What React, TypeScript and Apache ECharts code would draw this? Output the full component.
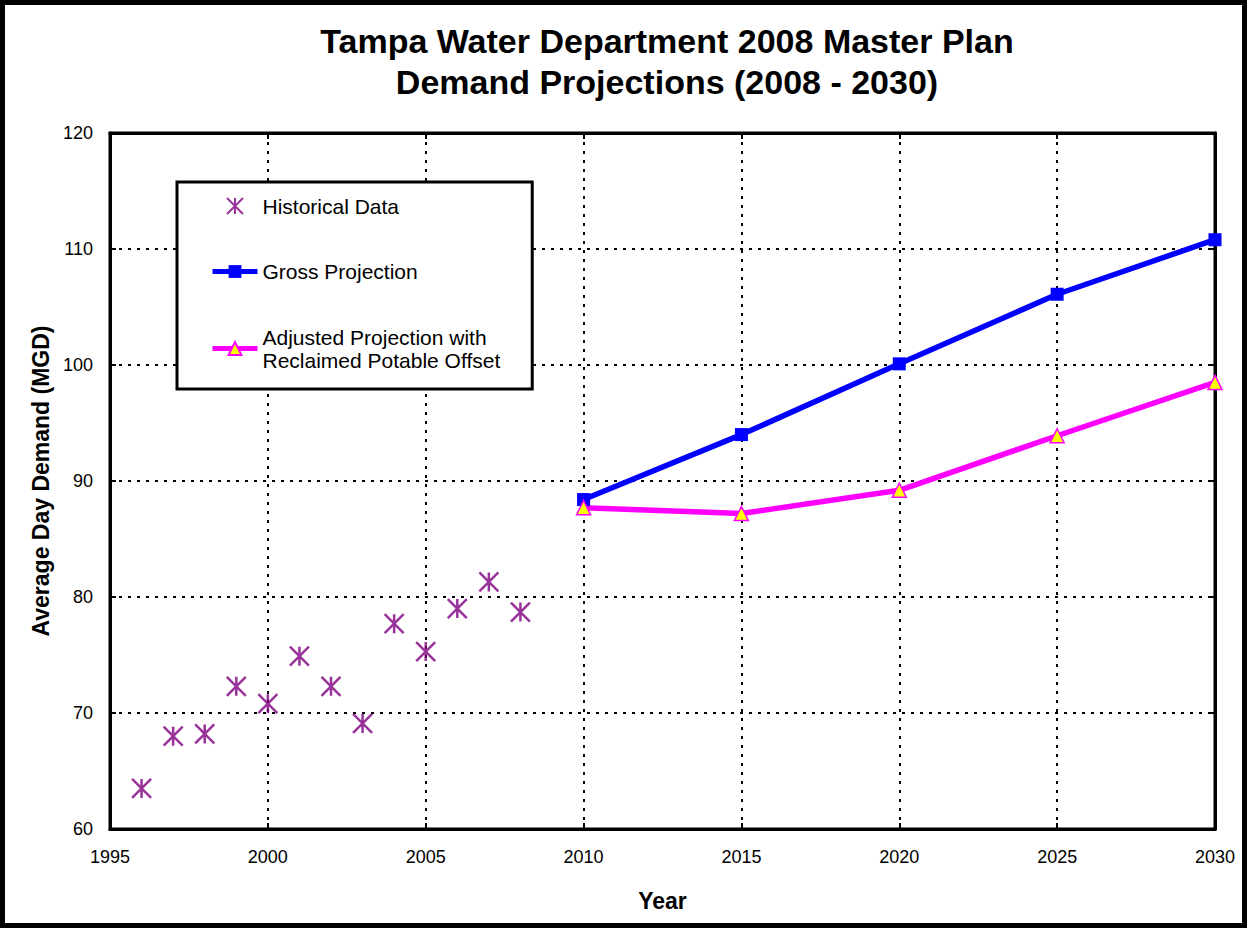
import React, { useEffect, useRef } from "react";
import * as echarts from "echarts";

const histYears = [1996, 1997, 1998, 1999, 2000, 2001, 2002, 2003, 2004, 2005, 2006, 2007, 2008];
const histValues = [63.5, 68.0, 68.2, 72.3, 70.8, 74.9, 72.3, 69.1, 77.7, 75.3, 79.0, 81.3, 78.7];
const projYears = [2010, 2015, 2020, 2025, 2030];
const grossValues = [88.4, 94.0, 100.1, 106.1, 110.8];
const adjustedValues = [87.7, 87.2, 89.2, 93.9, 98.5];

const FONT = "'Liberation Sans', Arial, sans-serif";
const ASTERISK = "path://M0,0 L20,20 M20,0 L0,20 M10,0 L10,20";

export default function App() {
  const ref = useRef<HTMLDivElement>(null);
  useEffect(() => {
    if (!ref.current) return;
    const chart = echarts.init(ref.current, undefined, { renderer: "svg" });
    const gridLine = { show: true, lineStyle: { color: "#000", width: 2, type: [3, 6] as any } };
    chart.setOption({
      animation: false,
      backgroundColor: "#fff",
      textStyle: { fontFamily: FONT },
      title: {
        text: "Tampa Water Department 2008 Master Plan\nDemand Projections (2008 - 2030)",
        left: 662,
        textAlign: "center",
        top: 15,
        textStyle: { fontFamily: FONT, fontSize: 34, fontWeight: "bold", color: "#000", lineHeight: 41 },
      },
      graphic: [
        {
          type: "rect",
          shape: { x: 2.5, y: 2.5, width: 1242, height: 923 },
          style: { fill: "none", stroke: "#000", lineWidth: 5 },
          silent: true,
        },
      ],
      grid: {
        left: 110,
        right: 32,
        top: 133,
        bottom: 99,
        show: true,
        borderColor: "#000",
        borderWidth: 3,
        backgroundColor: "transparent",
      },
      legend: {
        orient: "vertical",
        left: 177,
        top: 182,
        padding: [12.5, 32, 17.5, 33],
        itemGap: 42.5,
        itemWidth: 45,
        itemHeight: 16,
        itemTextGap: 4,
        backgroundColor: "#fff",
        borderColor: "#000",
        borderWidth: 3,
        lineStyle: { width: 5 },
        textStyle: { fontFamily: FONT, fontSize: 21, color: "#000", lineHeight: 23 },
        data: ["Historical Data", "Gross Projection", "Adjusted Projection with\nReclaimed Potable Offset"],
      },
      xAxis: [
        {
          type: "value",
          min: 1995,
          max: 2030,
          interval: 5,
          name: "Year",
          nameLocation: "middle",
          nameGap: 60,
          nameTextStyle: { fontFamily: FONT, fontSize: 23, fontWeight: "bold", color: "#000" },
          axisLine: { show: true, lineStyle: { color: "#000", width: 3 } },
          axisTick: { show: true, inside: true, length: 6, lineStyle: { color: "#000", width: 2 } },
          axisLabel: { color: "#000", fontSize: 18, fontFamily: FONT, margin: 19, formatter: (v: number) => String(v) },
          splitLine: gridLine,
        },
        {
          type: "value",
          position: "top",
          min: 1995,
          max: 2030,
          interval: 5,
          axisLine: { show: true, lineStyle: { color: "#000", width: 3 } },
          axisTick: { show: true, inside: true, length: 6, lineStyle: { color: "#000", width: 2 } },
          axisLabel: { show: false },
          splitLine: { show: false },
        },
      ],
      yAxis: [
        {
          type: "value",
          min: 60,
          max: 120,
          interval: 10,
          name: "Average Day Demand (MGD)",
          nameLocation: "middle",
          nameGap: 56,
          nameTextStyle: { fontFamily: FONT, fontSize: 23, fontWeight: "bold", color: "#000" },
          axisLine: { show: true, lineStyle: { color: "#000", width: 3 } },
          axisTick: { show: true, inside: true, length: 6, lineStyle: { color: "#000", width: 2 } },
          axisLabel: { color: "#000", fontSize: 18, fontFamily: FONT, margin: 17 },
          splitLine: gridLine,
        },
        {
          type: "value",
          position: "right",
          min: 60,
          max: 120,
          interval: 10,
          axisLine: { show: true, lineStyle: { color: "#000", width: 3 } },
          axisTick: { show: true, inside: true, length: 6, lineStyle: { color: "#000", width: 2 } },
          axisLabel: { show: false },
          splitLine: { show: false },
        },
      ],
      series: [
        {
          name: "Historical Data",
          type: "scatter",
          symbol: ASTERISK,
          symbolSize: 19,
          itemStyle: { color: "transparent", borderColor: "#800080", borderWidth: 2.5 },
          data: histYears.map((y, i) => [y, histValues[i]]),
          z: 5,
        },
        {
          name: "Gross Projection",
          type: "line",
          symbol: "rect",
          symbolSize: 13,
          lineStyle: { color: "#0000ff", width: 5.5 },
          itemStyle: { color: "#0000ff" },
          data: projYears.map((y, i) => [y, grossValues[i]]),
          z: 4,
        },
        {
          name: "Adjusted Projection with\nReclaimed Potable Offset",
          type: "line",
          symbol: "triangle",
          symbolSize: 14,
          lineStyle: { color: "#ff00ff", width: 5.5 },
          itemStyle: { color: "#ffff00", borderColor: "#ff00ff", borderWidth: 1.5 },
          data: projYears.map((y, i) => [y, adjustedValues[i]]),
          z: 4,
        },
      ],
    });
    return () => chart.dispose();
  }, []);
  return (
    <div
      ref={ref}
      style={{ position: "fixed", left: 0, top: 0, width: 1247, height: 928 }}
    />
  );
}
